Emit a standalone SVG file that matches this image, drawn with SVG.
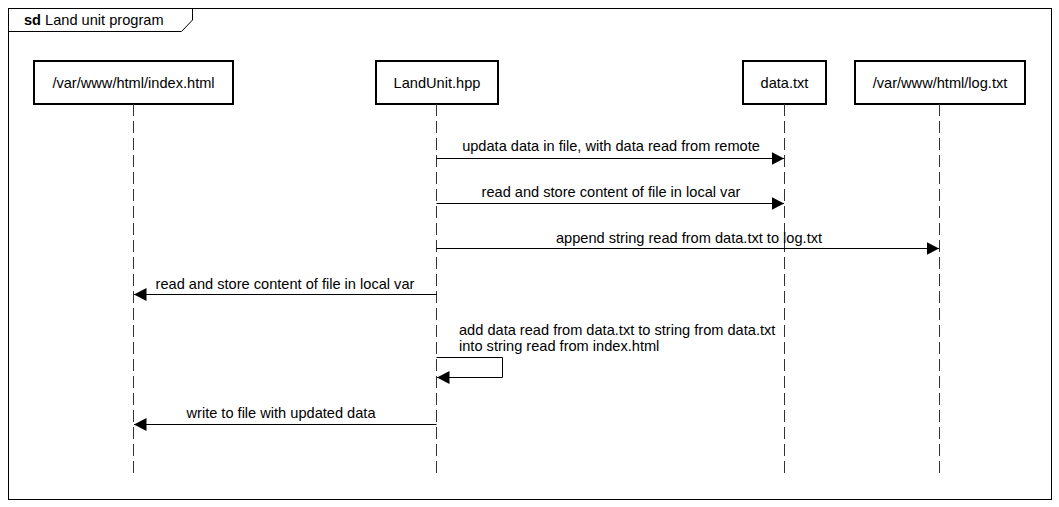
<svg xmlns="http://www.w3.org/2000/svg" width="1059" height="507" viewBox="0 0 1059 507">
<style>
text{font-family:"Liberation Sans",Arial,sans-serif;font-size:14.6px;fill:#000}
.box{fill:#fff;stroke:#000;stroke-width:2}
.life{stroke:#333;stroke-width:1;stroke-dasharray:12 5;fill:none}
.msg{stroke:#000;stroke-width:1;fill:none}
.c{text-anchor:middle}
</style>
<defs>
<marker id="ah" markerWidth="14" markerHeight="14" refX="12.5" refY="6.5" orient="auto" markerUnits="userSpaceOnUse">
<path d="M0,0 L12.5,6.5 L0,13 Z" fill="#000"/>
</marker>
</defs>
<rect width="1059" height="507" fill="#fff"/>
<g id="frame">
<rect x="8.5" y="8.5" width="1043" height="491" fill="none" stroke="#000" stroke-width="1"/>
<path d="M8.5,31.5 L181.5,31.5 L192.5,20 L192.5,8.5" fill="none" stroke="#000" stroke-width="1"/>
<text x="24" y="25"><tspan font-weight="bold">sd</tspan> Land unit program</text>
</g>
<g id="index">
<rect class="box" x="34" y="61" width="199" height="43"/>
<text class="c" x="133.5" y="87.5">/var/www/html/index.html</text>
<line class="life" x1="133.5" y1="104" x2="133.5" y2="473"/>
</g>
<g id="landunit">
<rect class="box" x="376" y="61" width="122" height="43"/>
<text class="c" x="437" y="87.5">LandUnit.hpp</text>
<line class="life" x1="436.5" y1="104" x2="436.5" y2="473"/>
</g>
<g id="data">
<rect class="box" x="743" y="61" width="83" height="43"/>
<text class="c" x="784.5" y="87.5">data.txt</text>
<line class="life" x1="784.5" y1="104" x2="784.5" y2="473"/>
</g>
<g id="log">
<rect class="box" x="855" y="61" width="170" height="43"/>
<text class="c" x="940" y="87.5">/var/www/html/log.txt</text>
<line class="life" x1="939.5" y1="104" x2="939.5" y2="473"/>
</g>
<g id="connectors">
<line class="msg" x1="436.5" y1="158.5" x2="784" y2="158.5" marker-end="url(#ah)"/>
<text class="c" x="611" y="151">updata data in file, with data read from remote</text>
<line class="msg" x1="436.5" y1="203.5" x2="784" y2="203.5" marker-end="url(#ah)"/>
<text class="c" x="611" y="197">read and store content of file in local var</text>
<line class="msg" x1="436.5" y1="248.5" x2="939" y2="248.5" marker-end="url(#ah)"/>
<text class="c" x="689" y="243">append string read from data.txt to log.txt</text>
<line class="msg" x1="436.5" y1="294.5" x2="134" y2="294.5" marker-end="url(#ah)"/>
<text class="c" x="285" y="289">read and store content of file in local var</text>
<path class="msg" d="M436.5,357.5 L502.5,357.5 L502.5,377.5 L437,377.5" marker-end="url(#ah)"/>
<text x="459" y="335">add data read from data.txt to string from data.txt</text>
<text x="459" y="351">into string read from index.html</text>
<line class="msg" x1="436.5" y1="424.5" x2="134" y2="424.5" marker-end="url(#ah)"/>
<text class="c" x="281" y="418">write to file with updated data</text>
</g>
</svg>
